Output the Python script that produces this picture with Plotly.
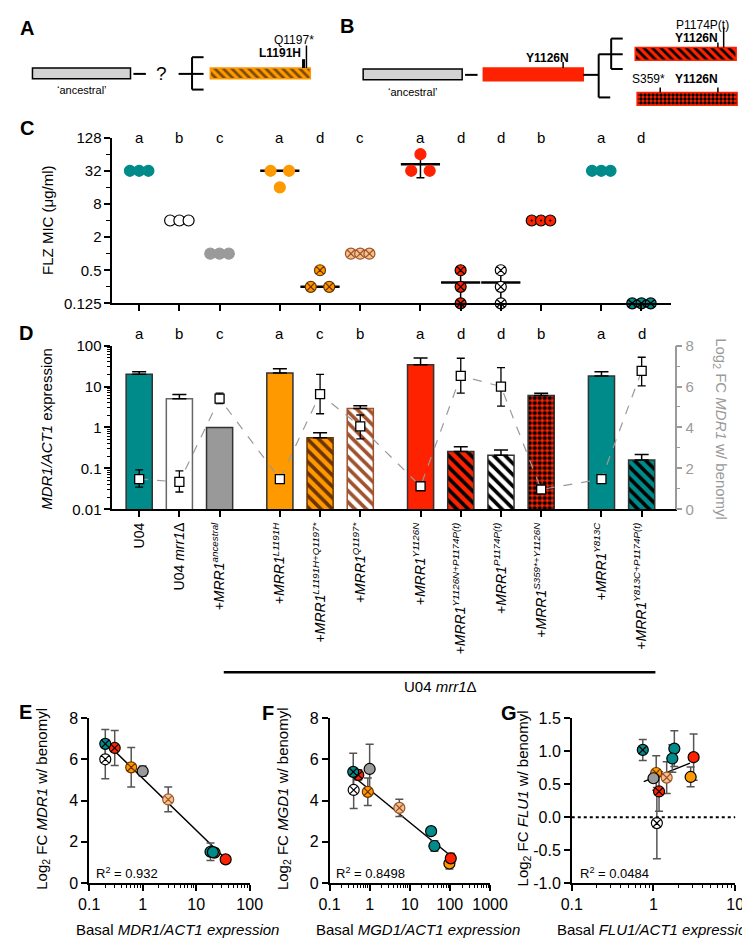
import numpy as np
import plotly.graph_objects as go

W, H = 750, 939
FONT = "Liberation Sans, Arial, sans-serif"

# ---------------- data ----------------
genotypes = ["U04", "mrr1", "anc", "L1191H", "L1191H+Q1197*", "Q1197*",
             "Y1126N", "Y1126N+P1174P(t)", "P1174P(t)", "S359*+Y1126N",
             "Y813C", "Y813C+P1174P(t)"]
xpos = [0, 1, 2, 3.5, 4.5, 5.5, 7, 8, 9, 10, 11.5, 12.5]
tick_labels = ["U04", "U04 <i>mrr1</i>Δ",
               "+<i>MRR1<sup>ancestral</sup></i>",
               "+<i>MRR1<sup>L1191H</sup></i>",
               "+<i>MRR1<sup>L1191H+Q1197*</sup></i>",
               "+<i>MRR1<sup>Q1197*</sup></i>",
               "+<i>MRR1<sup>Y1126N</sup></i>",
               "+<i>MRR1<sup>Y1126N+P1174P(t)</sup></i>",
               "+<i>MRR1<sup>P1174P(t)</sup></i>",
               "+<i>MRR1<sup>S359*+Y1126N</sup></i>",
               "+<i>MRR1<sup>Y813C</sup></i>",
               "+<i>MRR1<sup>Y813C+P1174P(t)</sup></i>"]
letters_c = ["a", "b", "c", "a", "d", "c", "a", "d", "d", "b", "a", "d"]
letters_d = ["a", "b", "c", "a", "c", "b", "a", "d", "d", "b", "a", "d"]

# C: FLZ MIC replicates (ug/ml)
mic = [[32, 32, 32], [4, 4, 4], [1, 1, 1], [32, 16, 32], [0.25, 0.5, 0.25],
       [1, 1, 1], [32, 64, 32], [0.5, 0.25, 0.125], [0.5, 0.25, 0.125],
       [4, 4, 4], [32, 32, 32], [0.125, 0.125, 0.125]]
mic_mean = [32, 4, 1, 32, 0.25, 1, 42, 0.3, 0.3, 4, 32, 0.125]
mic_sd = [0, 0, 0, 0, 0, 0, 18, 0.18, 0.18, 0, 0, 0]

# D: basal MDR1/ACT1 expression and log2 FC with benomyl
basal = [20, 5.0, 1.0, 21.5, 0.56, 2.9, 34, 0.26, 0.21, 6.0, 18.2, 0.16]
basal_err = [3, 1.4, 0, 5.5, 0.18, 0.5, 16, 0.08, 0.07, 0.9, 4.6, 0.06]
fc = [1.48, 1.34, 5.41, 1.48, 5.63, 4.05, 1.13, 6.52, 6.00, 0.97, 1.48, 6.76]
fc_hi = [1.93, 1.88, 5.68, 1.55, 6.59, 4.61, 1.20, 7.38, 6.92, 1.05, 1.58, 7.43]
fc_lo = [1.09, 0.85, 5.17, 1.42, 4.67, 3.44, 1.06, 5.68, 5.04, 0.90, 1.38, 6.03]

# E: MDR1
e_geno = ["U04", "anc", "L1191H", "L1191H+Q1197*", "Q1197*", "Y1126N",
          "Y1126N+P1174P(t)", "P1174P(t)", "Y813C", "Y813C+P1174P(t)"]
e_x = [18.5, 1.0, 22, 0.61, 3.0, 35.5, 0.30, 0.20, 20.5, 0.20]
e_y = [1.52, 5.43, 1.48, 5.62, 4.06, 1.15, 6.56, 6.01, 1.50, 6.76]
e_err = [0.42, 0.25, 0.07, 0.96, 0.6, 0.07, 0.85, 0.94, 0.12, 0.7]
e_fit_x = [0.207, 35.4]
e_fit_y = [6.81, 1.18]

# F: MGD1
f_geno = ["U04", "Y813C", "anc", "L1191H", "L1191H+Q1197*", "Q1197*", "Y1126N",
          "Y1126N+P1174P(t)", "P1174P(t)", "Y813C+P1174P(t)"]
f_x = [41, 34, 1.0, 97, 0.9, 5.5, 105, 0.52, 0.4, 0.39]
f_y = [1.80, 2.52, 5.54, 0.95, 4.43, 3.65, 1.20, 5.25, 4.52, 5.40]
f_err = [0.25, 0.05, 1.2, 0.27, 0.67, 0.42, 0.25, 0.25, 0.9, 0.9]
f_fit_x = [0.44, 92]
f_fit_y = [5.1, 1.41]

# G: FLU1
g_geno = ["Y813C+P1174P(t)", "Y813C", "U04", "Y1126N", "L1191H", "L1191H+Q1197*",
          "Y1126N+P1174P(t)", "P1174P(t)", "anc", "Q1197*"]
g_x = [0.74, 1.8, 1.7, 3.1, 2.85, 1.08, 1.17, 1.1, 1.0, 1.45]
g_y = [1.02, 1.04, 0.89, 0.91, 0.61, 0.67, 0.39, -0.09, 0.59, 0.60]
g_err = [0.16, 0.27, 0.21, 0.35, 0.15, 0.26, 0.3, 0.54, 0.05, 0.24]
g_fit_x = [0.76, 2.8]
g_fit_y = [0.54, 0.82]

r2_text = ["R<sup>2</sup> = 0.932", "R<sup>2</sup> = 0.8498", "R<sup>2</sup> = 0.0484"]

# ---------------- styles ----------------
TEAL, RED, ORANGE = "#008b8b", "#ff2200", "#ff9900"
GREY, BROWN, DBROWN, TAN = "#9a9a9a", "#a0522d", "#6b3300", "#f2c48c"
marker_style = {
    "U04": ("circle", TEAL, None),
    "mrr1": ("circle", "white", "black"),
    "anc": ("circle", GREY, None),
    "L1191H": ("circle", ORANGE, None),
    "L1191H+Q1197*": ("circle-x", ORANGE, DBROWN),
    "Q1197*": ("circle-x", TAN, BROWN),
    "Y1126N": ("circle", RED, None),
    "Y1126N+P1174P(t)": ("circle-x", RED, "black"),
    "P1174P(t)": ("circle-x", "white", "black"),
    "S359*+Y1126N": ("circle-dot", RED, "black"),
    "Y813C": ("circle", TEAL, None),
    "Y813C+P1174P(t)": ("circle-x", TEAL, "black"),
}
bar_style = {  # fill, pattern, pattern colour, outline
    "U04": (TEAL, "", "black", "#333"),
    "mrr1": ("white", "", "black", "#666"),
    "anc": ("#999999", "", "black", "#333"),
    "L1191H": (ORANGE, "", "black", "#333"),
    "L1191H+Q1197*": (ORANGE, "\\", DBROWN, DBROWN),
    "Q1197*": ("white", "\\", BROWN, BROWN),
    "Y1126N": (RED, "", "black", "#333"),
    "Y1126N+P1174P(t)": (RED, "\\", "black", "#333"),
    "P1174P(t)": ("white", "\\", "black", "#333"),
    "S359*+Y1126N": (RED, ".", "black", "#333"),
    "Y813C": (TEAL, "", "black", "#333"),
    "Y813C+P1174P(t)": (TEAL, "\\", "black", "#333"),
}


def px(x):
    return x / W


def py(y):
    return 1 - y / H


def pattern(shape, fg, bg, size=8, solidity=0.45):
    if not shape:
        return dict(shape="")
    return dict(shape=shape, fgcolor=fg, bgcolor=bg, fgopacity=1,
                size=size, solidity=solidity, fillmode="replace")


fig = go.Figure()

# ---------------- C ----------------
cx, cy, cs, cf, cl = [], [], [], [], []
for g, x0, reps in zip(genotypes, xpos, mic):
    for i, v in enumerate(reps):
        same = [j for j, w in enumerate(reps) if w == v]
        n, k = len(same), same.index(i)
        step = 0.46 if n == 2 else 0.23
        cx.append(x0 + (k - (n - 1) / 2) * step)
        cy.append(v)
        s, f, l = marker_style[g]
        cs.append(s)
        cf.append(f)
        cl.append(l if l else f)

# mean (+SD) lines only where replicates differ
varied = [len(set(r)) > 1 for r in mic]
fig.add_trace(go.Scatter(
    x=[x for x, v in zip(xpos, varied) if v],
    y=[m for m, v in zip(mic_mean, varied) if v], mode="markers",
    xaxis="x", yaxis="y", cliponaxis=False,
    marker=dict(symbol="line-ew", size=28, line=dict(color="black", width=2.5)),
    error_y=dict(type="data", array=[s for s, v in zip(mic_sd, varied) if v],
                 color="black", thickness=1.5, width=4),
    showlegend=False))
fig.add_trace(go.Scatter(
    x=cx, y=cy, mode="markers", xaxis="x", yaxis="y", cliponaxis=False,
    marker=dict(symbol=cs, color=cf, size=11, line=dict(color=cl, width=1.2)),
    showlegend=False))

# ---------------- D ----------------
for g, x, v, e in zip(genotypes, xpos, basal, basal_err):
    fill, pat, fg, edge = bar_style[g]
    fig.add_trace(go.Bar(
        x=[x], y=[v], width=0.65, xaxis="x2", yaxis="y2",
        marker=dict(color=fill, line=dict(color=edge, width=1.5),
                    pattern=pattern(pat, fg, fill, size=8 if pat != "." else 5,
                                    solidity=0.45 if pat != "." else 0.55)),
        error_y=dict(type="data", symmetric=False, array=[e], arrayminus=[0],
                     color="black", thickness=1.5, width=7, visible=e > 0),
        showlegend=False))
fig.add_trace(go.Scatter(
    x=xpos, y=fc, mode="lines+markers", xaxis="x2", yaxis="y3", cliponaxis=False,
    line=dict(color="#9a9a9a", width=1.2, dash="dash"),
    marker=dict(symbol="square", size=9, color="white", line=dict(color="black", width=1.3)),
    error_y=dict(type="data", symmetric=False,
                 array=[h - v for h, v in zip(fc_hi, fc)],
                 arrayminus=[v - l for l, v in zip(fc_lo, fc)],
                 color="black", thickness=1.3, width=4),
    showlegend=False))

# ---------------- E, F, G ----------------
def scatter_panel(xa, ya, geno, xs, ys, err, fx, fy):
    fig.add_trace(go.Scatter(x=fx, y=fy, mode="lines", xaxis=xa, yaxis=ya,
                             line=dict(color="black", width=1.5), showlegend=False))
    fig.add_trace(go.Scatter(
        x=xs, y=ys, mode="markers", xaxis=xa, yaxis=ya, cliponaxis=False,
        marker=dict(symbol=[marker_style[g][0] for g in geno],
                    color=[marker_style[g][1] for g in geno],
                    line=dict(color=[marker_style[g][2] or "black" for g in geno], width=1.2),
                    size=11),
        error_y=dict(type="data", array=err, color="#555", thickness=1.5, width=4),
        showlegend=False))


scatter_panel("x3", "y4", e_geno, e_x, e_y, e_err, e_fit_x, e_fit_y)
scatter_panel("x4", "y5", f_geno, f_x, f_y, f_err, f_fit_x, f_fit_y)
scatter_panel("x5", "y6", g_geno, g_x, g_y, g_err, g_fit_x, g_fit_y)

# ---------------- schematic (pixel overlay) ----------------
box_l = [14, 199, 358, 483, 641, 643]
box_r = [116, 303, 461, 587, 746, 747]
box_t = [52, 52, 53, 52, 31, 77]
box_b = [63, 63, 64, 65, 44, 90]
box_fill = ["#d3d3d3", ORANGE, "#d3d3d3", RED, RED, RED]
box_pat = ["", "\\", "", "", "\\", "."]
box_fg = ["black", "#7a4a00", "black", "black", "black", "black"]
box_line = ["black", ORANGE, "black", RED, RED, RED]
for l, r, t, b, fill, pat, fg, edge in zip(box_l, box_r, box_t, box_b,
                                           box_fill, box_pat, box_fg, box_line):
    fig.add_trace(go.Bar(
        orientation="h", base=[l], x=[r - l], y=[(t + b) / 2], width=[b - t],
        xaxis="x6", yaxis="y7",
        marker=dict(color=fill, line=dict(color=edge, width=1.5),
                    pattern=pattern(pat, fg, fill, size=6 if pat != "." else 4,
                                    solidity=0.45 if pat != "." else 0.55)),
        showlegend=False))

segs = [(119, 58, 132, 58, 2), (166, 58, 192, 58, 2), (180, 41, 180, 74, 2),
        (180, 41, 192, 41, 2), (180, 74, 192, 74, 2),
        (296, 43, 296, 52, 3), (299, 29, 299, 52, 1.5),
        (464, 59, 477, 59, 2), (587, 59, 603, 59, 2), (603, 38, 603, 82, 2),
        (603, 38, 616, 38, 2), (603, 82, 615, 82, 2), (616, 22, 616, 53, 2),
        (616, 22, 628, 22, 2), (616, 38, 628, 38, 2), (616, 53, 628, 53, 2),
        (566, 46, 566, 52, 1.5), (727, 26, 727, 31, 1.5), (733, 10, 733, 31, 1.5),
        (667, 72, 667, 77, 1.5), (727, 72, 727, 77, 1.5),
        (213, 668, 662, 668, 2.5)]
shapes = [dict(type="line", xref="x6", yref="y7", x0=a, y0=b, x1=c, y1=d,
               line=dict(color="black", width=w)) for a, b, c, d, w in segs]
shapes.append(dict(type="line", xref="x5 domain", yref="y6", x0=0, x1=1, y0=0, y1=0,
                   line=dict(color="black", width=2, dash="dot")))

ann = []


def txt(x, y, s, size=13, color="black", xanchor="center", angle=0, ref="x6"):
    ann.append(dict(x=x, y=y, xref=ref, yref="y7", text=s, showarrow=False,
                    font=dict(size=size, color=color, family=FONT),
                    xanchor=xanchor, yanchor="middle", textangle=angle))


for lab, x, y in [("A", 8, 11), ("B", 341, 9), ("C", 8, 113), ("D", 7, 322),
                  ("E", 7, 709), ("F", 259, 710), ("G", 510, 710)]:
    txt(x, y, "<b>%s</b>" % lab, size=20)

txt(66, 74, "‘ancestral’", 11)
txt(148, 58, "?", 19)
txt(295, 37, "<b>L1191H</b>", 12, xanchor="right")
txt(286, 23, "Q1197*", 12)
txt(410, 76, "‘ancestral’", 11)
txt(550, 42, "<b>Y1126N</b>", 12)
txt(711, 8, "P1174P(t)", 12)
txt(705, 21, "<b>Y1126N</b>", 12)
txt(655, 63, "S359*", 12)
txt(705, 63, "<b>Y1126N</b>", 12)

# letters above C and D
for x, a, b in zip(xpos, letters_c, letters_d):
    ann.append(dict(x=x, y=py(123), xref="x", yref="paper", text=a, showarrow=False,
                    font=dict(size=15, family=FONT), yanchor="middle"))
    ann.append(dict(x=x, y=py(323), xref="x2", yref="paper", text=b, showarrow=False,
                    font=dict(size=15, family=FONT), yanchor="middle"))

# axis titles
txt(29, 207, "FLZ MIC (μg/ml)", 15, angle=-90)
txt(29, 420, "<i>MDR1/ACT1</i> expression", 15, angle=-90)
txt(729, 420, "Log<sub>2</sub> FC <i>MDR1</i> w/ benomyl", 15, color="#9a9a9a", angle=90)
txt(438, 683, "U04 <i>mrr1</i>Δ", 15)
txt(25, 797, "Log<sub>2</sub> FC <i>MDR1</i> w/ benomyl", 15, angle=-90)
txt(275, 797, "Log<sub>2</sub> FC <i>MGD1</i> w/ benomyl", 15, angle=-90)
txt(525, 797, "Log<sub>2</sub> FC <i>FLU1</i> w/ benomyl", 15, angle=-90)
txt(57, 930, "Basal <i>MDR1/ACT1 expression</i>", 15, xanchor="left")
txt(307, 930, "Basal <i>MGD1/ACT1 expression</i>", 15, xanchor="left")
txt(558, 930, "Basal <i>FLU1/ACT1 expression</i>", 15, xanchor="left")
txt(78, 873, r2_text[0], 13, xanchor="left")
txt(328, 873, r2_text[1], 13, xanchor="left")
txt(581, 873, r2_text[2], 13, xanchor="left")

# ---------------- axes ----------------
def minor_log(lo, hi):
    return [k * 10.0 ** e for e in range(lo, hi) for k in range(2, 10)]


ax = dict(showgrid=False, zeroline=False, showline=True, linecolor="black", linewidth=1.5,
          ticks="outside", tickcolor="black", tickwidth=1.5, ticklen=6,
          tickfont=dict(size=15, family=FONT, color="black"), fixedrange=True)

c_ticks = [0.125, 0.5, 2, 8, 32, 128]
d_ticks = [0.01, 0.1, 1, 10, 100]

fig.update_layout(
    width=W, height=H, margin=dict(l=0, r=0, t=0, b=0),
    paper_bgcolor="white", plot_bgcolor="rgba(0,0,0,0)", barmode="overlay",
    font=dict(family=FONT, color="black"),
    xaxis=dict(ax, domain=[px(97), px(678)], range=[-0.67, 13.23], anchor="y",
               tickvals=xpos, showticklabels=False),
    yaxis=dict(ax, domain=[py(292), py(123)], type="log",
               range=[np.log10(0.125), np.log10(128)], anchor="x",
               tickvals=c_ticks, ticktext=["0.125", "0.5", "2", "8", "32", "128"],
               minor=dict(tickvals=[0.25, 1, 4, 16, 64], ticks="outside", ticklen=4,
                          tickcolor="black", tickwidth=1.2)),
    xaxis2=dict(ax, domain=[px(97), px(682)], range=[-0.67, 13.32], anchor="y2",
                tickvals=xpos, ticktext=tick_labels, tickangle=-90,
                tickfont=dict(size=14, family=FONT, color="black")),
    yaxis2=dict(ax, domain=[py(502), py(335)], type="log", range=[-2, 2], anchor="x2",
                tickvals=d_ticks, ticktext=["0.01", "0.1", "1", "10", "100"],
                minor=dict(tickvals=minor_log(-2, 2), ticks="outside", ticklen=3,
                           tickcolor="black", tickwidth=1)),
    yaxis3=dict(ax, overlaying="y2", side="right", anchor="x2", range=[0, 8],
                tickvals=[0, 2, 4, 6, 8], linecolor="#9a9a9a", tickcolor="#9a9a9a",
                tickfont=dict(size=15, family=FONT, color="#9a9a9a"),
                minor=dict(tickvals=[1, 3, 5, 7], ticks="outside", ticklen=4,
                           tickcolor="#9a9a9a", tickwidth=1.2)),
    xaxis3=dict(ax, domain=[px(73), px(240)], type="log", range=[-1, 2], anchor="y4",
                tickvals=[0.1, 1, 10, 100], ticktext=["0.1", "1", "10", "100"],
                tickfont=dict(size=16, family=FONT),
                minor=dict(tickvals=minor_log(-1, 2), ticks="outside", ticklen=3,
                           tickcolor="black", tickwidth=1)),
    yaxis4=dict(ax, domain=[py(883), py(715)], range=[0, 8], anchor="x3",
                tickvals=[0, 2, 4, 6, 8], tickfont=dict(size=16, family=FONT)),
    xaxis4=dict(ax, domain=[px(323), px(490)], type="log", range=[-1, 3], anchor="y5",
                tickvals=[0.1, 1, 10, 100, 1000], ticktext=["0.1", "1", "10", "100", "1000"],
                tickfont=dict(size=16, family=FONT),
                minor=dict(tickvals=minor_log(-1, 3), ticks="outside", ticklen=3,
                           tickcolor="black", tickwidth=1)),
    yaxis5=dict(ax, domain=[py(883), py(715)], range=[0, 8], anchor="x4",
                tickvals=[0, 2, 4, 6, 8], tickfont=dict(size=16, family=FONT)),
    xaxis5=dict(ax, domain=[px(575), px(745)], type="log", range=[-1, 1], anchor="y6",
                tickvals=[0.1, 1, 10], ticktext=["0.1", "1", "10"],
                tickfont=dict(size=16, family=FONT),
                minor=dict(tickvals=minor_log(-1, 1), ticks="outside", ticklen=3,
                           tickcolor="black", tickwidth=1)),
    yaxis6=dict(ax, domain=[py(883), py(715)], range=[-1, 1.5], anchor="x5",
                tickvals=[-1, -0.5, 0, 0.5, 1, 1.5],
                ticktext=["-1.0", "-0.5", "0.0", "0.5", "1.0", "1.5"],
                tickfont=dict(size=16, family=FONT)),
    xaxis6=dict(domain=[0, 1], range=[0, W], visible=False, anchor="y7", fixedrange=True),
    yaxis7=dict(domain=[0, 1], range=[H, 0], visible=False, anchor="x6", fixedrange=True),
    shapes=shapes, annotations=ann,
)

fig.write_html("out.html")
